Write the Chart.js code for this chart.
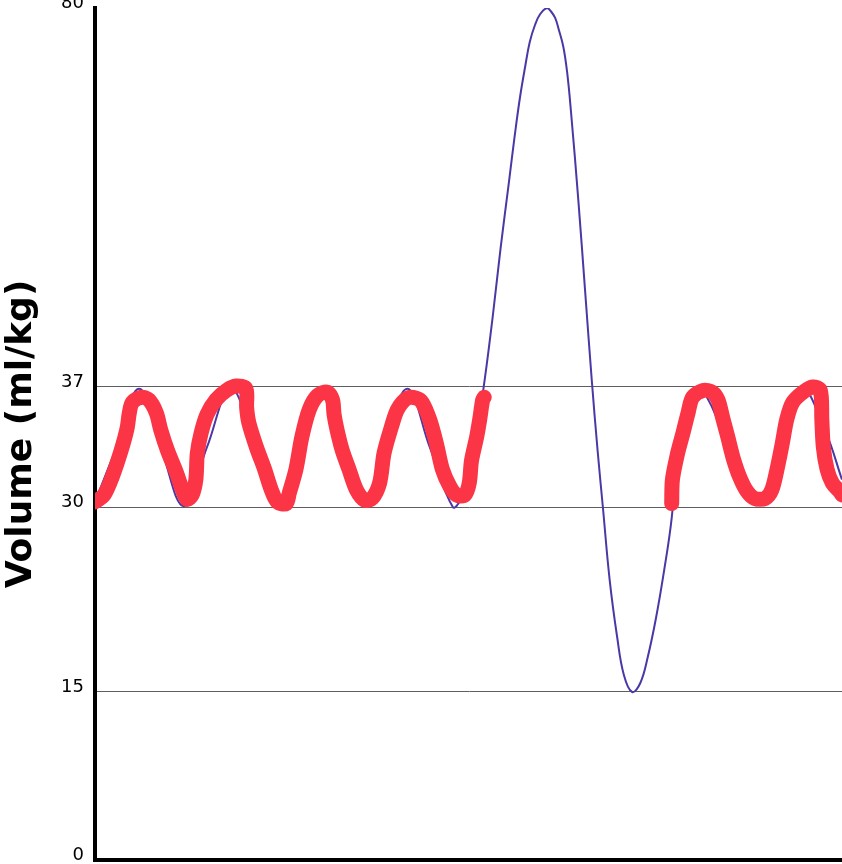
<!DOCTYPE html>
<html>
<head>
<meta charset="utf-8">
<script src="https://cdn.jsdelivr.net/npm/chart.js@4/dist/chart.umd.min.js"></script>
<style>
  html, body { margin: 0; padding: 0; background: #fff; }
</style>
</head>
<body>
<canvas id="volume" width="842" height="864"></canvas>
<script>
// y axis ticks and where each one sits on the (non linear) axis, as a share of its height
const yTicks = [0, 15, 30, 37, 80];
const yTickShare = [0, 0.1972, 0.4143, 0.5552, 1];

// traced breathing (red, drawn by hand) - null leaves the gap
const tracedTime = [
  0, 1.2, 2.3, 3.5, 4.3, 4.6, 5.0, 6.2, 7.2, 8.2,
  8.8, 9.7, 10.9, 11.7, 12.3, 13.0, 13.5, 13.7, 14.2, 15.0,
  16.2, 17.6, 18.9, 20.2, 20.3, 20.6, 21.6, 22.7, 23.6, 24.4,
  25.6, 26.0, 26.9, 27.7, 28.7, 29.8, 31.1, 31.8, 32.0, 32.4,
  33.1, 34.0, 35.0, 36.1, 37.1, 38.1, 38.7, 39.7, 40.5, 41.8,
  43.0, 43.8, 44.8, 45.7, 46.5, 47.5, 48.4, 49.5, 50.1, 50.4,
  51.1, 51.5, 51.9, 52.1,
  64,
  77.2, 77.3, 78.0, 78.7, 79.4, 80.0, 81.4, 82.6, 83.4, 84.0,
  84.7, 85.4, 86.3, 87.3, 88.3, 89.7, 90.6, 91.3, 92.0, 92.6,
  93.4, 94.8, 96.1, 97.1, 97.3, 97.5, 98.0, 98.7, 99.7, 100
];
const tracedVolume = [
  30.3, 30.7, 31.75, 33.3, 34.6, 35.5, 36.1, 36.4, 36.25, 35.5,
  34.5, 33.3, 32.0, 31.0, 30.45, 30.7, 31.6, 33.15, 34.3, 35.4,
  36.25, 36.8, 37.1, 36.9, 35.8, 34.9, 33.5, 32.2, 31.0, 30.3,
  30.2, 30.8, 32.2, 34.1, 35.7, 36.5, 36.7, 36.25, 35.4, 34.5,
  33.3, 32.2, 31.0, 30.4, 30.5, 31.4, 33.15, 34.7, 35.7, 36.35,
  36.35, 36.1, 35.1, 33.7, 32.2, 31.2, 30.7, 30.7, 31.4, 32.7,
  34.1, 35.1, 36.25, 36.4,
  null,
  30.2, 31.6, 33.15, 34.3, 35.5, 36.4, 36.8, 36.7, 36.25, 35.25,
  34.1, 32.9, 31.75, 30.9, 30.5, 30.5, 31.0, 32.2, 33.7, 35.1,
  36.1, 36.7, 37.0, 36.8, 35.1, 33.5, 32.2, 31.4, 30.9, 30.7
];

// spirometer curve (thin purple line)
const curveTime = [
  0, 2.9, 5.9, 8.8, 11.9, 15.0, 18.2, 21.4, 24.7, 27.3,
  30.0, 33.0, 36.1, 38.9, 41.8, 44.8,
  47.9, 49.0, 50.1, 51.1, 52.2, 53.3, 54.3, 55.4, 56.2, 56.9,
  57.6, 58.2, 58.9, 59.6, 60.5, 61.0, 61.6, 62.1, 62.7, 63.2,
  63.7, 64.7, 65.6, 66.5, 67.3, 68.0, 68.9, 69.9, 70.8, 71.9,
  73.0, 74.0, 75.1, 76.2, 77.2, 78.3, 79.4, 81.1,
  85.0, 88.6, 91.7, 94.6, 97.7, 100
];
const curveVolume = [
  30.3, 33.5, 36.9, 33.5, 30.05, 33.5, 36.9, 33.5, 30.0, 33.5,
  36.9, 33.5, 30.05, 33.5, 36.9, 33.5,
  30.0, 30.47, 31.81, 34.26, 38.02, 45.4, 52.77, 60.15, 65.59, 69.9,
  73.42, 76.14, 78.07, 79.32, 80, 79.66, 78.87, 77.51, 75.58, 72.74,
  68.43, 58.22, 48.01, 37.79, 33.21, 29.92, 24.08, 19.46, 16.38, 15,
  15.73, 17.84, 21.0, 24.9, 29.1, 34.6, 36.2, 36.9,
  33.3, 30.1, 33.9, 36.9, 34.5, 31.6
];

const gridTicks = [15, 30, 37];

// map a volume onto the axis share, piece by piece between the ticks
function toShare(v) {
  if (v <= yTicks[0]) return yTickShare[0];
  for (let i = 1; i < yTicks.length; i++) {
    if (v <= yTicks[i]) {
      const f = (v - yTicks[i - 1]) / (yTicks[i] - yTicks[i - 1]);
      return yTickShare[i - 1] + f * (yTickShare[i] - yTickShare[i - 1]);
    }
  }
  return yTickShare[yTickShare.length - 1];
}
function fromShare(d) {
  for (let i = 1; i < yTickShare.length; i++) {
    if (d <= yTickShare[i]) {
      const f = (d - yTickShare[i - 1]) / (yTickShare[i] - yTickShare[i - 1]);
      return yTicks[i - 1] + f * (yTicks[i] - yTicks[i - 1]);
    }
  }
  return yTicks[yTicks.length - 1];
}

class PiecewiseScale extends Chart.LinearScale {
  getPixelForValue(value) {
    return this.getPixelForDecimal(toShare(value));
  }
  getValueForPixel(pixel) {
    return fromShare(this.getDecimalForPixel(pixel));
  }
}
PiecewiseScale.id = 'piecewise';
PiecewiseScale.defaults = Chart.LinearScale.defaults;
Chart.register(PiecewiseScale);

function zip(xs, ys) {
  return xs.map((x, i) => ({ x: x, y: ys[i] }));
}

let ctx = document.getElementById("volume").getContext('2d');
let volumeChart = new Chart(ctx, {
  type: 'line',
  data: {
    datasets: [{
      label: 'traced',
      data: zip(tracedTime, tracedVolume),
      borderColor: '#fb3446',
      borderWidth: 15,
      borderCapStyle: 'round',
      borderJoinStyle: 'round',
      pointRadius: 0,
      tension: 0.3,
      spanGaps: false
    }, {
      label: 'curve',
      data: zip(curveTime, curveVolume),
      borderColor: '#4b37a5',
      borderWidth: 2,
      pointRadius: 0,
      tension: 0.4
    }]
  },
  options: {
    responsive: false,
    animation: false,
    layout: { padding: { top: 8, left: 0, right: 0, bottom: 0 } },
    plugins: {
      legend: { display: false },
      tooltip: { enabled: false }
    },
    scales: {
      x: {
        type: 'linear',
        min: 0,
        max: 100,
        ticks: { display: false },
        grid: { display: false, drawTicks: false },
        border: { display: true, color: '#000', width: 4 },
        afterFit: (scale) => {
          scale.height = 4;
          scale.paddingLeft = 0;
          scale.paddingRight = 0;
        }
      },
      y: {
        type: 'piecewise',
        min: 0,
        max: 80,
        afterBuildTicks: (scale) => {
          scale.ticks = yTicks.map(v => ({ value: v }));
        },
        afterFit: (scale) => {
          scale.width = 95;
          scale.paddingTop = 0;
          scale.paddingBottom = 0;
        },
        ticks: {
          padding: 11,
          labelOffset: -5,
          color: '#000',
          font: { family: 'DejaVu Sans', size: 18 },
          callback: (v) => String(v)
        },
        grid: {
          drawTicks: false,
          lineWidth: 1,
          color: (c) => gridTicks.includes(c.tick && c.tick.value) ? '#5e5e5e' : 'rgba(0,0,0,0)'
        },
        border: { display: true, color: '#000', width: 4 },
        title: {
          display: true,
          text: 'Volume (ml/kg)',
          color: '#000',
          padding: 0,
          font: { family: 'DejaVu Sans', size: 36, weight: 'bold' }
        }
      }
    }
  }
});
</script>
</body>
</html>
